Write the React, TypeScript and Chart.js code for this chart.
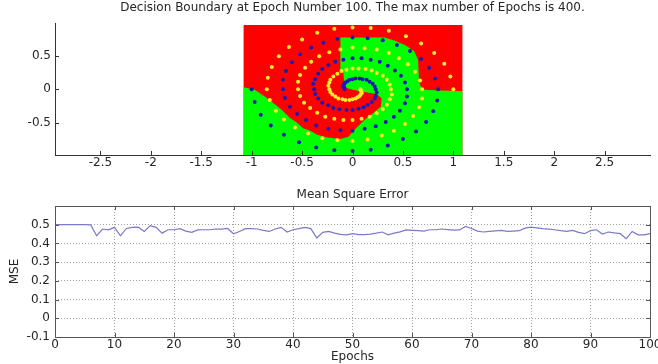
import React, { useEffect, useRef } from "react";
import { Chart, registerables } from "chart.js";

Chart.register(...registerables);

const FONT = "'DejaVu Sans', 'Liberation Sans', Arial, sans-serif";
const TEXT = "#262626";

const TOP_TITLE = "Decision Boundary at Epoch Number 100. The max number of Epochs is 400.";
const BOTTOM_TITLE = "Mean Square Error";
const X_TITLE = "Epochs";
const Y_TITLE = "MSE";

// spiral class 1 (yellow)
const YELLOW_X = [
  1.0, 0.97, 0.91, 0.81, 0.68, 0.53, 0.36, 0.18,
  0, -0.18, -0.35, -0.5, -0.63, -0.73, -0.8, -0.84,
  -0.85, -0.82, -0.76, -0.68, -0.57, -0.44, -0.3, -0.15,
  0, 0.15, 0.29, 0.41, 0.52, 0.6, 0.66, 0.69,
  0.69, 0.67, 0.62, 0.55, 0.46, 0.36, 0.24, 0.12,
  0, -0.12, -0.23, -0.33, -0.41, -0.47, -0.52, -0.54,
  -0.54, -0.52, -0.48, -0.42, -0.35, -0.27, -0.18, -0.09,
  0, 0.09, 0.17, 0.24, 0.3, 0.34, 0.37, 0.39,
  0.38, 0.37, 0.34, 0.3, 0.24, 0.19, 0.13, 0.06,
  0, -0.06, -0.11, -0.15, -0.19, -0.22, -0.23, -0.24,
  -0.23, -0.22, -0.2, -0.17, -0.14, -0.1, -0.07, -0.03,
  0, 0.03, 0.05, 0.07, 0.08, 0.09, 0.09, 0.08,
  0.08,
];
const YELLOW_Y = [
  0, 0.19, 0.38, 0.54, 0.68, 0.79, 0.87, 0.91,
  0.92, 0.9, 0.84, 0.74, 0.63, 0.49, 0.33, 0.17,
  0, -0.16, -0.32, -0.45, -0.57, -0.66, -0.73, -0.76,
  -0.77, -0.75, -0.69, -0.62, -0.52, -0.4, -0.27, -0.14,
  0, 0.13, 0.26, 0.37, 0.46, 0.54, 0.59, 0.61,
  0.62, 0.59, 0.55, 0.49, 0.41, 0.32, 0.21, 0.11,
  0, -0.1, -0.2, -0.28, -0.35, -0.41, -0.44, -0.46,
  -0.46, -0.44, -0.41, -0.36, -0.3, -0.23, -0.15, -0.08,
  0, 0.07, 0.14, 0.2, 0.24, 0.28, 0.3, 0.31,
  0.31, 0.29, 0.27, 0.23, 0.19, 0.14, 0.1, 0.05,
  0, -0.04, -0.08, -0.11, -0.14, -0.15, -0.16, -0.16,
  -0.15, -0.14, -0.12, -0.1, -0.08, -0.06, -0.04, -0.02,
  0,
];
// spiral class 2 (blue)
const BLUE_X = [
  -1.0, -0.97, -0.91, -0.81, -0.68, -0.53, -0.36, -0.18,
  0, 0.18, 0.35, 0.5, 0.63, 0.73, 0.8, 0.84,
  0.85, 0.82, 0.76, 0.68, 0.57, 0.44, 0.3, 0.15,
  0, -0.15, -0.29, -0.41, -0.52, -0.6, -0.66, -0.69,
  -0.69, -0.67, -0.62, -0.55, -0.46, -0.36, -0.24, -0.12,
  0, 0.12, 0.23, 0.33, 0.41, 0.47, 0.52, 0.54,
  0.54, 0.52, 0.48, 0.42, 0.35, 0.27, 0.18, 0.09,
  0, -0.09, -0.17, -0.24, -0.3, -0.34, -0.37, -0.39,
  -0.38, -0.37, -0.34, -0.3, -0.24, -0.19, -0.13, -0.06,
  0, 0.06, 0.11, 0.15, 0.19, 0.22, 0.23, 0.24,
  0.23, 0.22, 0.2, 0.17, 0.14, 0.1, 0.07, 0.03,
  0, -0.03, -0.05, -0.07, -0.08, -0.09, -0.09, -0.08,
  -0.08,
];
const BLUE_Y = [
  0, -0.19, -0.38, -0.54, -0.68, -0.79, -0.87, -0.91,
  -0.92, -0.9, -0.84, -0.74, -0.63, -0.49, -0.33, -0.17,
  0, 0.16, 0.32, 0.45, 0.57, 0.66, 0.73, 0.76,
  0.77, 0.75, 0.69, 0.62, 0.52, 0.4, 0.27, 0.14,
  0, -0.13, -0.26, -0.37, -0.46, -0.54, -0.59, -0.61,
  -0.62, -0.59, -0.55, -0.49, -0.41, -0.32, -0.21, -0.11,
  0, 0.1, 0.2, 0.28, 0.35, 0.41, 0.44, 0.46,
  0.46, 0.44, 0.41, 0.36, 0.3, 0.23, 0.15, 0.08,
  0, -0.07, -0.14, -0.2, -0.24, -0.28, -0.3, -0.31,
  -0.31, -0.29, -0.27, -0.23, -0.19, -0.14, -0.1, -0.05,
  0, 0.04, 0.08, 0.11, 0.14, 0.15, 0.16, 0.16,
  0.15, 0.14, 0.12, 0.1, 0.08, 0.06, 0.04, 0.02,
  0,
];

// decision grid extent (red class everywhere unless inside green region)
const REGION_X = [-1.08, 1.09, 1.09, -1.08, -1.08];
const REGION_Y = [0.955, 0.955, -0.98, -0.98, 0.955];

// green class region outline
const GREEN_X = [
  -1.08, -1.08, -0.97, -0.87, -0.79, -0.7, -0.62, -0.55, -0.49, -0.42, -0.35, -0.25,
  -0.12, -0.04, 0.01, 0.07, 0.14, 0.21, 0.28, 0.29, 0.24, 0.12, 0.0, -0.08,
  -0.09, -0.12, -0.12, 0.32, 0.42, 0.52, 0.61, 0.65, 0.66, 0.69, 1.09, 1.09, -1.08,
];
const GREEN_Y = [
  -0.98, 0.03, -0.01, -0.11, -0.2, -0.31, -0.43, -0.5, -0.58, -0.62, -0.68, -0.72,
  -0.74, -0.71, -0.62, -0.53, -0.43, -0.35, -0.26, -0.14, -0.07, -0.04, -0.01, 0.03,
  0.24, 0.29, 0.77, 0.77, 0.72, 0.66, 0.57, 0.44, 0.11, -0.01, -0.03, -0.98, -0.98,
];

const TOP_X_TICKS = [-2.5, -2, -1.5, -1, -0.5, 0, 0.5, 1, 1.5, 2, 2.5];
const TOP_Y_TICKS = [-0.5, 0, 0.5];

const EPOCHS = [
  0, 1, 2, 3, 4, 5, 6, 7, 8, 9, 10, 11, 12, 13, 14, 15, 16, 17, 18, 19, 20,
  21, 22, 23, 24, 25, 26, 27, 28, 29, 30, 31, 32, 33, 34, 35, 36, 37, 38, 39, 40,
  41, 42, 43, 44, 45, 46, 47, 48, 49, 50, 51, 52, 53, 54, 55, 56, 57, 58, 59, 60,
  61, 62, 63, 64, 65, 66, 67, 68, 69, 70, 71, 72, 73, 74, 75, 76, 77, 78, 79, 80,
  81, 82, 83, 84, 85, 86, 87, 88, 89, 90, 91, 92, 93, 94, 95, 96, 97, 98, 99, 100,
];
const MSE = [
  0.5, 0.5, 0.5, 0.5, 0.5, 0.5, 0.499, 0.441, 0.477, 0.473, 0.486,
  0.441, 0.48, 0.486, 0.487, 0.464, 0.495, 0.486, 0.455, 0.473, 0.473,
  0.479, 0.466, 0.459, 0.472, 0.473, 0.473, 0.477, 0.476, 0.48, 0.452,
  0.464, 0.479, 0.479, 0.477, 0.47, 0.464, 0.477, 0.486, 0.461, 0.473,
  0.479, 0.486, 0.479, 0.429, 0.459, 0.464, 0.455, 0.448, 0.446, 0.452,
  0.447, 0.447, 0.45, 0.455, 0.461, 0.446, 0.455, 0.462, 0.472, 0.47,
  0.468, 0.466, 0.473, 0.473, 0.477, 0.474, 0.471, 0.472, 0.491, 0.48,
  0.466, 0.461, 0.464, 0.467, 0.47, 0.464, 0.466, 0.468, 0.482, 0.487,
  0.483, 0.479, 0.476, 0.473, 0.468, 0.464, 0.47, 0.459, 0.452, 0.468,
  0.473, 0.45, 0.461, 0.456, 0.452, 0.425, 0.464, 0.446, 0.446, 0.452,
];
const MSE_X_TICKS = [0, 10, 20, 30, 40, 50, 60, 70, 80, 90, 100];
const MSE_Y_TICKS = [-0.1, 0, 0.1, 0.2, 0.3, 0.4, 0.5, 0.6];
const MSE_Y_LABELS = ["-0.1", "0", "0.1", "0.2", "0.3", "0.4", "0.5", ""];

const inwardTicks = {
  id: "inwardTicks",
  afterDatasetsDraw(chart: any, _args: any, opts: any) {
    const { ctx, chartArea: a, scales } = chart;
    const len = 4;
    ctx.save();
    ctx.strokeStyle = opts.color || "#333";
    ctx.lineWidth = 1;
    ctx.beginPath();
    for (const t of scales.x.ticks) {
      const px = Math.round(scales.x.getPixelForValue(t.value)) + 0.5;
      ctx.moveTo(px, a.bottom);
      ctx.lineTo(px, a.bottom - len);
      if (opts.box) {
        ctx.moveTo(px, a.top);
        ctx.lineTo(px, a.top + len);
      }
    }
    for (const t of scales.y.ticks) {
      const py = Math.round(scales.y.getPixelForValue(t.value)) + 0.5;
      ctx.moveTo(a.left, py);
      ctx.lineTo(a.left + len, py);
      if (opts.box) {
        ctx.moveTo(a.right, py);
        ctx.lineTo(a.right - len, py);
      }
    }
    ctx.stroke();
    if (opts.box) {
      const l = Math.round(a.left) + 0.5;
      const t = Math.round(a.top) + 0.5;
      ctx.strokeRect(l, t, Math.round(a.right) - Math.round(a.left), Math.round(a.bottom) - Math.round(a.top));
    }
    ctx.restore();
  },
};

const tickFont = { family: FONT, size: 12 };

export default function App() {
  const topRef = useRef<HTMLCanvasElement>(null);
  const botRef = useRef<HTMLCanvasElement>(null);

  useEffect(() => {
    const pts = (xs: number[], ys: number[]) => xs.map((x, i) => ({ x, y: ys[i] }));

    const c1 = new Chart(topRef.current as HTMLCanvasElement, {
      type: "scatter",
      data: {
        datasets: [
          {
            data: pts(BLUE_X, BLUE_Y),
            backgroundColor: "#1a1ab4",
            pointRadius: 2,
            pointBorderWidth: 0,
            order: 1,
          } as any,
          {
            data: pts(YELLOW_X, YELLOW_Y),
            backgroundColor: "#ffea2a",
            pointRadius: 2,
            pointBorderWidth: 0,
            order: 2,
          } as any,
          {
            data: pts(GREEN_X, GREEN_Y),
            showLine: true,
            fill: "shape",
            backgroundColor: "#00ff00",
            borderColor: "rgba(0,0,0,0)",
            borderWidth: 0,
            pointRadius: 0,
            tension: 0,
            order: 9,
          } as any,
          {
            data: pts(REGION_X, REGION_Y),
            showLine: true,
            fill: "shape",
            backgroundColor: "#ff0000",
            borderColor: "rgba(0,0,0,0)",
            borderWidth: 0,
            pointRadius: 0,
            tension: 0,
            order: 10,
          } as any,
        ],
      },
      options: {
        animation: false,
        responsive: false,
        devicePixelRatio: 1,
        layout: { padding: { left: 0, right: 8, top: 0, bottom: 0 } },
        plugins: {
          legend: { display: false },
          tooltip: { enabled: false },
          title: {
            display: true,
            fullSize: false,
            text: TOP_TITLE,
            color: TEXT,
            font: { family: FONT, size: 12, weight: "normal" },
            padding: { top: 1, bottom: 8 },
          },
          inwardTicks: { box: false, color: "#333" },
        } as any,
        scales: {
          x: {
            type: "linear",
            min: -2.95,
            max: 2.95,
            grid: { display: false, drawTicks: false },
            border: { display: true, color: "#333", width: 1 },
            ticks: { padding: 1, color: TEXT, font: tickFont, callback: (v: any) => String(v) },
            afterBuildTicks: (s: any) => {
              s.ticks = TOP_X_TICKS.map((value) => ({ value }));
            },
            afterFit: (s: any) => {
              s.height = 25;
              s.paddingLeft = 0;
              s.paddingRight = 0;
            },
          },
          y: {
            type: "linear",
            min: -0.98,
            max: 0.98,
            grid: { display: false, drawTicks: false },
            border: { display: true, color: "#333", width: 1 },
            ticks: { padding: 4, color: TEXT, font: tickFont, callback: (v: any) => String(v) },
            afterBuildTicks: (s: any) => {
              s.ticks = TOP_Y_TICKS.map((value) => ({ value }));
            },
            afterFit: (s: any) => {
              s.width = 55;
              s.paddingTop = 0;
              s.paddingBottom = 0;
            },
          },
        },
      } as any,
      plugins: [inwardTicks as any],
    });

    const c2 = new Chart(botRef.current as HTMLCanvasElement, {
      type: "scatter",
      data: {
        datasets: [
          {
            data: pts(EPOCHS, MSE),
            showLine: true,
            borderColor: "#7a7ac8",
            borderWidth: 1.2,
            pointRadius: 0,
            tension: 0,
            fill: false,
          } as any,
        ],
      },
      options: {
        animation: false,
        responsive: false,
        devicePixelRatio: 1,
        layout: { padding: { left: 0, right: 8, top: 0, bottom: 0 } },
        plugins: {
          legend: { display: false },
          tooltip: { enabled: false },
          title: {
            display: true,
            fullSize: false,
            text: BOTTOM_TITLE,
            color: TEXT,
            font: { family: FONT, size: 12, weight: "normal" },
            padding: { top: 8, bottom: 3.6 },
          },
          inwardTicks: { box: true, color: "#555" },
        } as any,
        scales: {
          x: {
            type: "linear",
            min: 0,
            max: 100,
            grid: { display: true, drawTicks: false, color: "#a0a0a0", lineWidth: 1 },
            border: { display: false, dash: [1, 2] },
            ticks: { padding: 1, color: TEXT, font: tickFont, callback: (v: any) => String(v) },
            title: {
              display: true,
              text: X_TITLE,
              color: TEXT,
              font: { family: FONT, size: 12 },
              padding: { top: 0, bottom: 0 },
            },
            afterBuildTicks: (s: any) => {
              s.ticks = MSE_X_TICKS.map((value) => ({ value }));
            },
            afterFit: (s: any) => {
              s.height = 27;
              s.paddingLeft = 0;
              s.paddingRight = 0;
            },
          },
          y: {
            type: "linear",
            min: -0.1,
            max: 0.6,
            grid: { display: true, drawTicks: false, color: "#a0a0a0", lineWidth: 1 },
            border: { display: false, dash: [1, 2] },
            ticks: {
              padding: 5,
              color: TEXT,
              font: tickFont,
              callback: (_v: any, i: number) => MSE_Y_LABELS[i],
            },
            title: {
              display: true,
              text: Y_TITLE,
              color: TEXT,
              font: { family: FONT, size: 12 },
              padding: { top: 8, bottom: 0 },
            },
            afterBuildTicks: (s: any) => {
              s.ticks = MSE_Y_TICKS.map((value) => ({ value }));
            },
            afterFit: (s: any) => {
              s.width = 55;
              s.paddingTop = 0;
              s.paddingBottom = 0;
            },
          },
        },
      } as any,
      plugins: [inwardTicks as any],
    });

    return () => {
      c1.destroy();
      c2.destroy();
    };
  }, []);

  return (
    <div style={{ position: "fixed", left: 0, top: 0, width: 658, height: 364, background: "#fff" }}>
      <canvas
        ref={topRef}
        width={658}
        height={180}
        style={{ position: "absolute", left: 0, top: 0, width: 658, height: 180 }}
      />
      <canvas
        ref={botRef}
        width={658}
        height={184}
        style={{ position: "absolute", left: 0, top: 180, width: 658, height: 184 }}
      />
    </div>
  );
}
